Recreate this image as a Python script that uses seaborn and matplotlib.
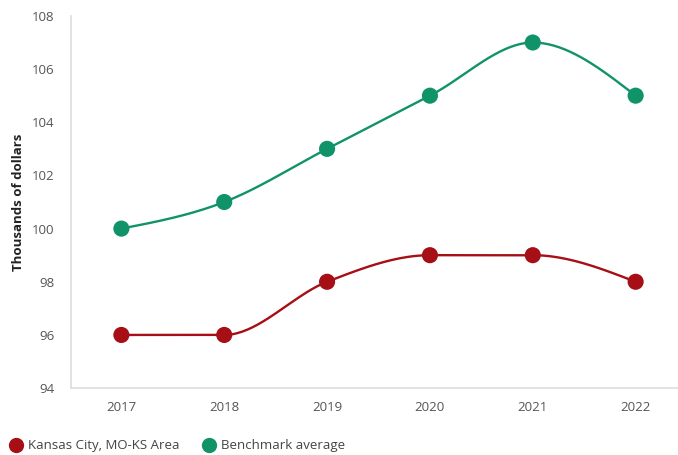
import numpy as np
import pandas as pd
import seaborn as sns
import matplotlib
matplotlib.use("Agg")
import matplotlib.pyplot as plt
from matplotlib.lines import Line2D

years = ["2017", "2018", "2019", "2020", "2021", "2022"]
kansas_city = [96, 96, 98, 99, 99, 98]
benchmark = [100, 101, 103, 105, 107, 105]
series_names = ["Kansas City, MO-KS Area", "Benchmark average"]
colors = ["#A50F15", "#11936A"]

sns.set_style("white")
plt.rcParams["font.family"] = ["Open Sans", "DejaVu Sans"]


def monotone_curve(y, n=40):
    # d3 curveMonotoneX style (Fritsch-Carlson) for drawing a smooth line
    y = np.asarray(y, float)
    x = np.arange(len(y), dtype=float)
    h = np.diff(x)
    d = np.diff(y) / h
    m = np.zeros_like(y)
    for i in range(1, len(y) - 1):
        p = (d[i - 1] * h[i] + d[i] * h[i - 1]) / (h[i - 1] + h[i])
        m[i] = (np.sign(d[i - 1]) + np.sign(d[i])) * min(abs(d[i - 1]), abs(d[i]), 0.5 * abs(p))
    m[0] = (3 * d[0] - m[1]) / 2
    m[-1] = (3 * d[-1] - m[-2]) / 2
    xs, ys = [], []
    for i in range(len(y) - 1):
        t = np.linspace(0, 1, n, endpoint=(i == len(y) - 2))
        h00 = 2 * t**3 - 3 * t**2 + 1
        h10 = t**3 - 2 * t**2 + t
        h01 = -2 * t**3 + 3 * t**2
        h11 = t**3 - t**2
        xs.append(x[i] + t * h[i])
        ys.append(h00 * y[i] + h10 * h[i] * m[i] + h01 * y[i + 1] + h11 * h[i] * m[i + 1])
    return np.concatenate(xs), np.concatenate(ys)


fig = plt.figure(figsize=(6.78, 4.55), dpi=100)
ax = fig.add_axes([0.1047, 0.147, 0.895, 0.818])

for vals, name, c in zip([kansas_city, benchmark], series_names, colors):
    cx, cy = monotone_curve(vals)
    sns.lineplot(x=cx, y=cy, ax=ax, color=c, linewidth=1.7, sort=False)
    df = pd.DataFrame({"x": np.arange(len(years)), "y": vals})
    sns.scatterplot(data=df, x="x", y="y", ax=ax, color=c, s=135, edgecolor="none", zorder=3)

ax.set_xlim(-0.49, 5.41)
ax.set_ylim(94, 108)
ax.set_xticks(range(len(years)))
ax.set_xticklabels(years)
ax.set_yticks(np.arange(94, 109, 2))
ax.set_xlabel("")
ax.set_ylabel("Thousands of dollars", fontsize=9.5, fontweight="bold", color="#222222", labelpad=5)
for s in ["top", "right"]:
    ax.spines[s].set_visible(False)
for s in ["left", "bottom"]:
    ax.spines[s].set_color("#dddddd")
    ax.spines[s].set_linewidth(1.2)
ax.tick_params(axis="y", direction="in", length=3, color="#cccccc", labelsize=9.5, labelcolor="#555555", pad=12)
ax.tick_params(axis="x", length=0, labelsize=9.5, labelcolor="#555555", pad=9)

handles = [Line2D([0], [0], marker="o", color="none", markerfacecolor=c, markeredgecolor="none",
                  markersize=11) for c in colors]
fig.legend(handles, series_names, loc="center left", bbox_to_anchor=(-0.005, 0.02), ncol=2, frameon=False,
           fontsize=9.5, handletextpad=0.3, columnspacing=1.6, labelcolor="#444444", handlelength=1.2)

fig.savefig("out.png", dpi=100)
